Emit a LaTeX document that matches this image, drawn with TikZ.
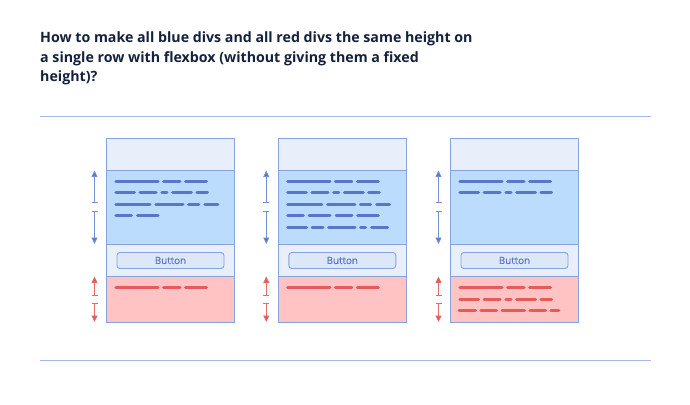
\documentclass[tikz,border=0pt]{standalone}
\usepackage{fontspec}
\setmainfont{Open Sans}
\newfontfamily\btnfont{Open Sans}[FakeBold=0.6]
\usetikzlibrary{arrows.meta}
\definecolor{frame}{HTML}{86A3E0}
\definecolor{greyfill}{HTML}{E9EFFA}
\definecolor{bluefill}{HTML}{BCDCFE}
\definecolor{redfill}{HTML}{FFC3C3}
\definecolor{btnfill}{HTML}{DCE7F7}
\definecolor{bluetxt}{HTML}{5A76C7}
\definecolor{redtxt}{HTML}{E55A5A}
\definecolor{bluearr}{HTML}{7490D8}
\definecolor{redarr}{HTML}{E26C6C}
\definecolor{rule}{HTML}{A5B8E8}
\definecolor{titlec}{HTML}{14213D}
\tikzset{
  sect/.style={draw=frame, line width=0.9pt},
  btn/.style={draw=frame, fill=btnfill, rounded corners=3pt, line width=0.9pt, minimum width=107pt, minimum height=16pt, inner sep=0pt, text=bluetxt, font=\btnfont\fontsize{9.8}{10}\selectfont},
  bline/.style={draw=bluetxt, line width=3pt, line cap=round},
  rline/.style={draw=redtxt, line width=3pt, line cap=round},
  barr/.style={draw=bluearr, line width=0.8pt, arrows={Bar[width=6pt,line width=0.8pt]-Triangle[width=6pt,length=6.5pt,fill=bluetxt]}},
  rarr/.style={draw=redarr, line width=0.8pt, arrows={Bar[width=6pt,line width=0.8pt]-Triangle[width=6pt,length=6.5pt,fill=redtxt]}},
  ttl/.style={anchor=base west, inner sep=0pt, text=titlec, font=\fontsize{14.2}{19}\selectfont\bfseries},
  hrule/.style={draw=rule, line width=1pt}
}
\newcommand\rowR[4]{\foreach \pa/\pb in #4 {\draw[#3] (#1+\pa+1,#2) -- (#1+\pb-1,#2);}}
\def\rA{8.3/52.7, 56/74.5, 78/101}
\def\rB{8.3/29, 32.5/50.7, 54.3/61.5, 65/86, 89.3/102}
\def\rC{8.3/44.5, 48.3/77.5, 81/93.3, 97.3/112.3}
\def\rDa{8.3/26, 30/52.7}
\def\rDb{8.3/26, 29.7/52.7, 56.7/74.7, 78.3/101}
\def\rE{8.3/29.3, 32.7/45.7, 49.3/77.7, 81.3/88.3, 92.3/110.3}
\def\rF{7.7/26, 29.3/47, 50.7/75, 78.3/96, 99.3/109.3}
\newcommand\panelbox[2]{%
  \fill[greyfill] (#1,138.5) rectangle (#1+128,170);
  \fill[bluefill] (#1,170) rectangle (#1+128,244);
  \fill[greyfill] (#1,244) rectangle (#1+128,276);
  \fill[redfill] (#1,276) rectangle (#1+128,322);
  \draw[sect] (#1,170) -- (#1+128,170);
  \draw[sect] (#1,244) -- (#1+128,244);
  \draw[sect] (#1,276) -- (#1+128,276);
  \draw[sect] (#1,138.5) rectangle (#1+128,322);
  \node[btn] (#2) at (#1+64,260.5) {Button};
  \coordinate (#2bt) at (#1-12,170.5);
  \coordinate (#2bm1) at (#1-12,203);
  \coordinate (#2bm2) at (#1-12,211);
  \coordinate (#2bb) at (#1-12,244);
  \coordinate (#2rt) at (#1-12,276.5);
  \coordinate (#2rm1) at (#1-12,295.5);
  \coordinate (#2rm2) at (#1-12,303);
  \coordinate (#2rb) at (#1-12,322);
  \draw[barr] (#2bm1) -- (#2bt);
  \draw[barr] (#2bm2) -- (#2bb);
  \draw[rarr] (#2rm1) -- (#2rt);
  \draw[rarr] (#2rm2) -- (#2rb);
}
\begin{document}
\begin{tikzpicture}[x=1pt,y=-1pt]
\useasboundingbox[fill=white] (0,0) rectangle (690,404);
\node[ttl] (t1) at (40,42.7) {How to make all blue divs and all red divs the same height on};
\node[ttl] (t2) at (40,62.5) {a single row with flexbox (without giving them a fixed};
\node[ttl] (t3) at (40,81.5) {height)?};
\coordinate (h1a) at (40,116);
\coordinate (h1b) at (651,116);
\coordinate (h2a) at (40,360);
\coordinate (h2b) at (651,360);
\draw[hrule] (h1a) -- (h1b);
\draw[hrule] (h2a) -- (h2b);
% panel 1
\panelbox{106.5}{b1}
\rowR{106.5}{181}{bline}{\rA}
\rowR{106.5}{192.5}{bline}{\rB}
\rowR{106.5}{204}{bline}{\rC}
\rowR{106.5}{215.5}{bline}{\rDa}
\rowR{106.5}{287.7}{rline}{\rA}
% panel 2
\panelbox{278.3}{b2}
\rowR{278.3}{181}{bline}{\rA}
\rowR{278.3}{192.5}{bline}{\rB}
\rowR{278.3}{204}{bline}{\rC}
\rowR{278.3}{215.5}{bline}{\rDb}
\rowR{278.3}{227}{bline}{\rE}
\rowR{278.3}{287.7}{rline}{\rA}
% panel 3
\panelbox{450.5}{b3}
\rowR{450.5}{181}{bline}{\rA}
\rowR{450.5}{192.5}{bline}{\rB}
\rowR{450.5}{287.7}{rline}{\rA}
\rowR{450.5}{299}{rline}{\rB}
\rowR{450.5}{310.7}{rline}{\rF}
\end{tikzpicture}
\end{document}
